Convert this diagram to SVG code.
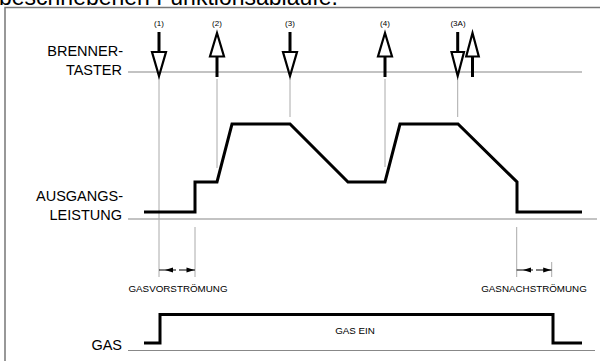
<svg xmlns="http://www.w3.org/2000/svg" width="600" height="361" viewBox="0 0 600 361">
<style>
text{font-family:"Liberation Sans",Arial,sans-serif;fill:#000}
.lbl{font-size:14.5px;text-anchor:end}
.num{font-size:8px;text-anchor:middle}
.small{font-size:9.8px;text-anchor:middle}
.frame{stroke:#777;stroke-width:1.5;fill:none}
.axis{stroke:#888;stroke-width:1.2;fill:none}
.guide{stroke:#aaa;stroke-width:1;fill:none}
.sig{stroke:#000;stroke-width:3;fill:none;stroke-linejoin:miter}
.shaft{stroke:#000;stroke-width:3}
.head{fill:#fff;stroke:#000;stroke-width:2.2;stroke-linejoin:miter}
.dim{stroke:#000;stroke-width:1}
.dimhead{fill:#000}
</style>
<rect width="600" height="361" fill="#fff"/>
<text x="-1" y="4.5" style="font-size:23px">beschriebenen Funktionsabläufe.</text>
<g id="frame">
<path class="frame" d="M5,361 V7.5 H600"/>
</g>
<g id="axes">
<line class="axis" x1="128" y1="72" x2="582" y2="72"/>
<line class="axis" x1="128" y1="219" x2="597" y2="219"/>
<line class="axis" x1="128" y1="350.5" x2="595" y2="350.5"/>
</g>
<g id="label-brenner">
<text class="lbl" x="123" y="56">BRENNER-</text>
<text class="lbl" x="122" y="75">TASTER</text>
</g>
<g id="label-ausgang">
<text class="lbl" x="123" y="201">AUSGANGS-</text>
<text class="lbl" x="122" y="219.5">LEISTUNG</text>
</g>
<g id="label-gas">
<text class="lbl" x="122" y="350">GAS</text>
</g>
<g id="guides">
<line class="guide" x1="159" y1="77" x2="159" y2="277"/>
<line class="guide" x1="195" y1="227" x2="195" y2="277"/>
<line class="guide" x1="217" y1="79" x2="217" y2="168"/>
<line class="guide" x1="290" y1="79" x2="290" y2="117"/>
<line class="guide" x1="385" y1="79" x2="385" y2="167"/>
<line class="guide" x1="457.7" y1="79" x2="457.7" y2="117"/>
<line class="guide" x1="516.7" y1="227" x2="516.7" y2="277"/>
<line class="guide" x1="551.7" y1="262" x2="551.7" y2="277"/>
</g>
<g id="signals">
<polyline class="sig" points="144,212 195,212 195,182 217,182 232,124 290,124 348,182 385,182 400,124 458,124 517,182 517,212 582,212"/>
<polyline class="sig" points="144,343 160,343 160,314.5 553,314.5 553,343 582,343"/>
</g>
<g id="events">
<g id="ev1">
<text class="num" x="159" y="25.5">(1)</text>
<line class="shaft" x1="159" y1="32" x2="159" y2="53"/>
<polygon class="head" points="152,52 166,52 159,76"/>
</g>
<g id="ev2">
<text class="num" x="217" y="25.5">(2)</text>
<line class="shaft" x1="217" y1="55" x2="217" y2="77"/>
<polygon class="head" points="210,56.5 224,56.5 217,33"/>
</g>
<g id="ev3">
<text class="num" x="290" y="25.5">(3)</text>
<line class="shaft" x1="290" y1="32" x2="290" y2="53"/>
<polygon class="head" points="283,52 297,52 290,76"/>
</g>
<g id="ev4">
<text class="num" x="385" y="25.5">(4)</text>
<line class="shaft" x1="385" y1="55" x2="385" y2="77"/>
<polygon class="head" points="378,56.5 392,56.5 385,33"/>
</g>
<g id="ev3a">
<text class="num" x="458" y="25.5">(3A)</text>
<line class="shaft" x1="457.7" y1="32" x2="457.7" y2="53"/>
<polygon class="head" points="451.5,52 464,52 457.7,76"/>
<line class="shaft" x1="472.5" y1="55" x2="472.5" y2="77"/>
<polygon class="head" points="466.2,56.5 478.8,56.5 472.5,33"/>
</g>
</g>
<g id="dim-vor">
<line class="dim" x1="159" y1="270" x2="176" y2="270"/>
<polygon class="dimhead" points="165,270 173,267.5 173,272.5"/>
<line class="dim" x1="179" y1="270" x2="195" y2="270"/>
<polygon class="dimhead" points="194.5,270 186.5,267.5 186.5,272.5"/>
<text class="small" x="178" y="292">GASVORSTRÖMUNG</text>
</g>
<g id="dim-nach">
<line class="dim" x1="516.7" y1="270" x2="533" y2="270"/>
<polygon class="dimhead" points="523,270 531,267.5 531,272.5"/>
<line class="dim" x1="536" y1="270" x2="551.7" y2="270"/>
<polygon class="dimhead" points="551.2,270 543.2,267.5 543.2,272.5"/>
<text class="small" x="534" y="292">GASNACHSTRÖMUNG</text>
</g>
<g id="label-gasein">
<text class="small" x="355" y="334.3">GAS EIN</text>
</g>
</svg>
